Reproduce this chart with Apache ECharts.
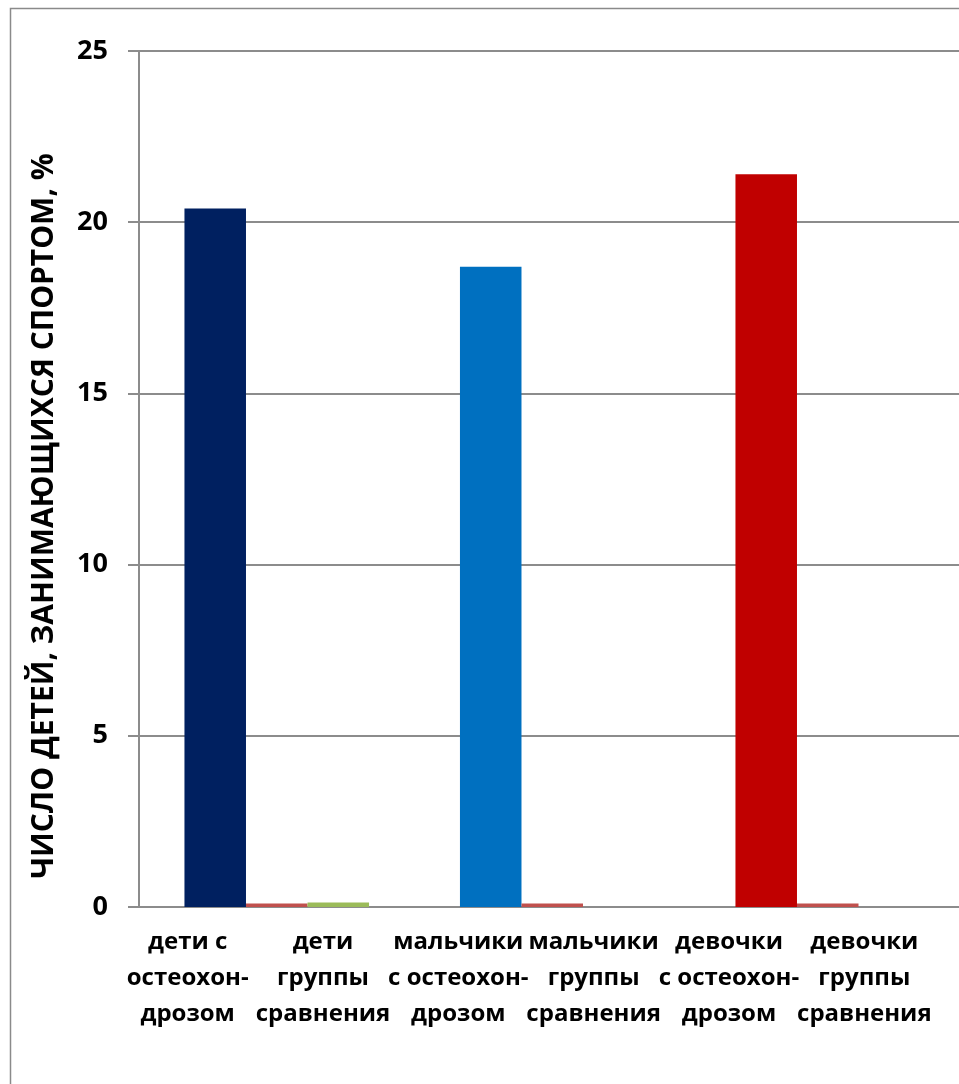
<!DOCTYPE html>
<html>
<head>
<meta charset="utf-8">
<script src="https://cdn.jsdelivr.net/npm/echarts@6/dist/echarts.min.js"></script>
<style>
  html, body { margin: 0; padding: 0; background: #ffffff; }
  #chart { width: 959px; height: 1084px; }
</style>
</head>
<body>
<div id="chart"></div>
<script>
// Groups along the bottom axis (one cluster of bars each)
const groups = ['дети', 'мальчики', 'девочки'];
// Caption under each bar slot
const slotLabels = [
  'дети с\nостеохон-\nдрозом',
  'дети\nгруппы\nсравнения',
  'мальчики\nс остеохон-\nдрозом',
  'мальчики\nгруппы\nсравнения',
  'девочки\nс остеохон-\nдрозом',
  'девочки\nгруппы\nсравнения'
];
// Share of children doing sport, %
const osteoValues = [20.4, 18.7, 21.4];
const osteoColors = ['#002060', '#0070C0', '#C00000'];
const compareValues = [0.1, 0.1, 0.1];
const extraValues = [0.13, null, null];
const yTicks = { min: 0, max: 25, interval: 5 };

const FONT = '"Open Sans", "Noto Sans", sans-serif';
const GRID_COLOR = '#8c8c8c';

const chart = echarts.init(document.getElementById('chart'));
chart.setOption({
  animation: false,
  backgroundColor: '#ffffff',
  graphic: [{
    type: 'rect',
    z: -10,
    shape: { x: 10.5, y: 8.5, width: 1000, height: 1200 },
    style: { fill: 'none', stroke: '#8a8a8a', lineWidth: 1.5 }
  }],
  grid: [
    { left: 139, top: 51, width: 826.5, height: 856, outerBoundsMode: 'none' },
    { left: 120, top: 51, width: 812, height: 856, outerBoundsMode: 'none' }
  ],
  xAxis: [
    {
      type: 'category', gridIndex: 0, data: groups,
      axisLine: { show: true, lineStyle: { color: GRID_COLOR, width: 2 } },
      axisTick: { show: false },
      axisLabel: { show: false }
    },
    {
      type: 'category', gridIndex: 1, data: slotLabels,
      axisLine: { show: false },
      axisTick: { show: false },
      axisLabel: {
        show: true, interval: 0, margin: 17,
        fontFamily: FONT, fontWeight: 'bold', fontSize: 24,
        color: '#000000', lineHeight: 36, align: 'center'
      }
    }
  ],
  yAxis: [
    {
      type: 'value', gridIndex: 0,
      min: yTicks.min, max: yTicks.max, interval: yTicks.interval,
      name: 'ЧИСЛО ДЕТЕЙ, ЗАНИМАЮЩИХСЯ СПОРТОМ, %',
      nameLocation: 'middle', nameRotate: 90, nameGap: 80,
      nameTextStyle: {
        fontFamily: FONT, fontWeight: 'bold', fontSize: 30, color: '#000000',
        padding: [0, 74, 0, 0]
      },
      axisLine: { show: true, lineStyle: { color: GRID_COLOR, width: 2 } },
      axisTick: { show: true, inside: false, length: 11, lineStyle: { color: GRID_COLOR, width: 2 } },
      axisLabel: {
        margin: 31, fontFamily: FONT, fontWeight: 'bold', fontSize: 27, color: '#000000'
      },
      splitLine: { show: true, lineStyle: { color: GRID_COLOR, width: 2 } }
    },
    {
      type: 'value', gridIndex: 1, show: false, min: 0, max: 25,
      splitLine: { show: false }
    }
  ],
  series: [
    {
      type: 'bar', xAxisIndex: 0, yAxisIndex: 0,
      barGap: '0%', barCategoryGap: '33%',
      data: osteoValues.map((v, i) => ({ value: v, itemStyle: { color: osteoColors[i] } }))
    },
    {
      type: 'bar', xAxisIndex: 0, yAxisIndex: 0,
      barGap: '0%', barCategoryGap: '33%',
      itemStyle: { color: '#C0504D' },
      data: compareValues
    },
    {
      type: 'bar', xAxisIndex: 0, yAxisIndex: 0,
      barGap: '0%', barCategoryGap: '33%',
      itemStyle: { color: '#9BBB59' },
      data: extraValues
    }
  ]
});
</script>
</body>
</html>
